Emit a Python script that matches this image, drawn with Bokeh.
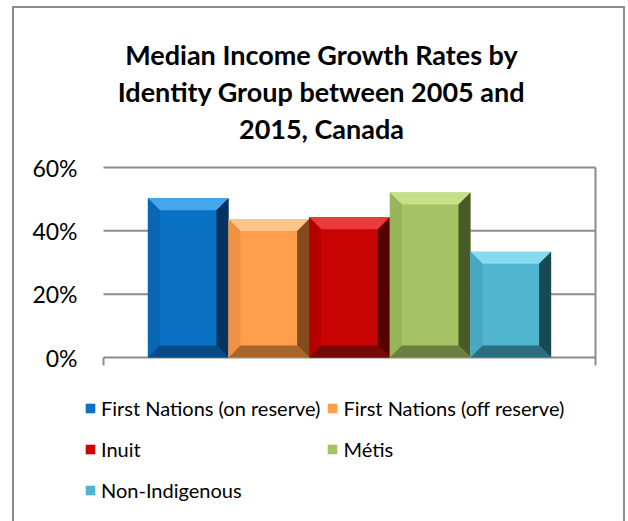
from bokeh.plotting import figure
from bokeh.models import Range1d, FixedTicker, Label, Legend, LegendItem
from bokeh.embed import file_html
from bokeh.resources import INLINE

# ---------------- data ----------------
groups = ["First Nations (on reserve)", "First Nations (off reserve)",
          "Inuit", "Métis", "Non-Indigenous"]
growth = [50.3, 43.7, 44.3, 52.1, 33.4]          # percent
y_ticks = [0, 20, 40, 60]
y_tick_labels = ["0%", "20%", "40%", "60%"]
title_lines = ["Median Income Growth Rates by",
               "Identity Group between 2005 and",
               "2015, Canada"]

main_col = ["#0A72C4", "#FF9F4B", "#C80404", "#A5C364", "#50B6D0"]
top_col = ["#45A6EC", "#FFC489", "#EE3A3A", "#C6E08A", "#86DAF0"]
left_col = ["#0866B2", "#F09243", "#B60000", "#97B55A", "#46A8C2"]
right_col = ["#04345E", "#84491C", "#560000", "#485A28", "#1A4956"]
bot_col = ["#064B86", "#A8652C", "#760808", "#6A8040", "#2C6E80"]

# ---------------- layout constants (canvas px) ----------------
W, H = 628, 521
FL = 80                      # frame left (y-axis panel to its left)
PX0, PX1 = 103, 595          # plot area: x data 0 -> 103px, 1 -> 595px
PY0, PY60 = 357, 167         # plot area: y 0% -> 357px, 60% -> 167px
ux = PX1 - PX0               # px per x unit
uy = (PY0 - PY60) / 60.0     # px per percent

x_range = Range1d((FL - PX0) / ux, (W - PX0) / ux)
y_range = Range1d(-(H - PY0) / uy, 60 + PY60 / uy)

p = figure(width=W, height=H, output_backend="svg", toolbar_location=None,
           x_range=x_range, y_range=y_range, x_axis_location=None,
           min_border_left=FL, min_border_right=0,
           min_border_top=0, min_border_bottom=0)
p.title = None
p.outline_line_color = None
p.background_fill_color = None
p.border_fill_color = None

GRID = "#8c8c8c"
FONT = "Lato"

# outer chart border (CSS decoration behind the transparent canvas)
g = "linear-gradient(%s,%s)" % (GRID, GRID)
p.styles = {
    "background-color": "white",
    "background-image": ", ".join([g, g, g]),
    "background-position": "12px 6px, 12px 6px, 623px 6px",
    "background-size": "2px 530px, 613px 2px, 2px 530px",
    "background-repeat": "no-repeat",
}

# y axis (labels only)
p.yaxis.ticker = FixedTicker(ticks=y_ticks)
p.yaxis.major_label_overrides = {t: s for t, s in zip(y_ticks, y_tick_labels)}
p.yaxis.axis_line_color = None
p.yaxis.major_tick_line_color = None
p.yaxis.minor_tick_line_color = None
p.yaxis.major_tick_out = 0
p.yaxis.major_tick_in = 0
p.yaxis.major_label_standoff = 3
p.yaxis.major_label_text_font = FONT
p.yaxis.major_label_text_font_size = "23px"
p.yaxis.major_label_text_color = "#000000"

p.xgrid.grid_line_color = None
p.ygrid.grid_line_color = None

# horizontal gridlines across the plot area, at the y ticks
p.segment(x0=[0] * len(y_ticks), x1=[1] * len(y_ticks), y0=y_ticks, y1=y_ticks,
          line_color=GRID, line_width=2)
# category-axis end ticks and right-hand edge line
tick_len = 8 / uy
p.segment(x0=[0, 1], x1=[0, 1], y0=[0, y_ticks[-1]], y1=[-tick_len, -tick_len],
          line_color=GRID, line_width=2)

# ---------------- bars ----------------
n = len(groups)
gap_ratio = 1.1
bw = 1.0 / (n + gap_ratio)
x0s = [bw * gap_ratio / 2 + i * bw for i in range(n)]
x1s = [x + bw for x in x0s]
xcs = [x + bw / 2 for x in x0s]
bx = 12 / ux
by = 12 / uy

renderers = []
for i in range(n):
    r = p.vbar(x=[xcs[i]], top=[growth[i]], bottom=0, width=bw,
               fill_color=main_col[i], line_color=None)
    renderers.append(r)

    x0, x1, v = x0s[i], x1s[i], growth[i]
    xs = [
        [x0, x1, x1 - bx, x0 + bx],                 # top
        [x0, x0, x0 + bx, x0 + bx],                 # left
        [x1, x1, x1 - bx, x1 - bx],                 # right
        [x0, x1, x1 - bx, x0 + bx],                 # bottom
    ]
    ys = [
        [v, v, v - by, v - by],
        [v, 0, by, v - by],
        [v, 0, by, v - by],
        [0, 0, by, by],
    ]
    cols = [top_col[i], left_col[i], right_col[i], bot_col[i]]
    p.patches(xs=xs, ys=ys, fill_color=cols, line_color=None)

# ---------------- legend ----------------
legend = Legend(items=[LegendItem(label=gname, renderers=[r]) for gname, r in zip(groups, renderers)],
                orientation="horizontal", ncols=2,
                location=(84 - FL, H - 507),
                glyph_width=12, glyph_height=12, label_height=35, spacing=6,
                label_standoff=5, padding=0, margin=0,
                border_line_color=None, background_fill_alpha=0,
                label_text_font=FONT, label_text_font_size="20px",
                label_text_color="#000000")
p.add_layout(legend)

# ---------------- title ----------------
for line, base in zip(title_lines, [54, 91, 128]):
    p.add_layout(Label(x=(321 - PX0) / ux, y=(PY0 - base) / uy, text=line,
                       text_align="center", text_baseline="alphabetic",
                       text_font=FONT, text_font_style="bold",
                       text_font_size="27px", text_color="#000000"))

open("out.html", "w").write(file_html(p, INLINE))
